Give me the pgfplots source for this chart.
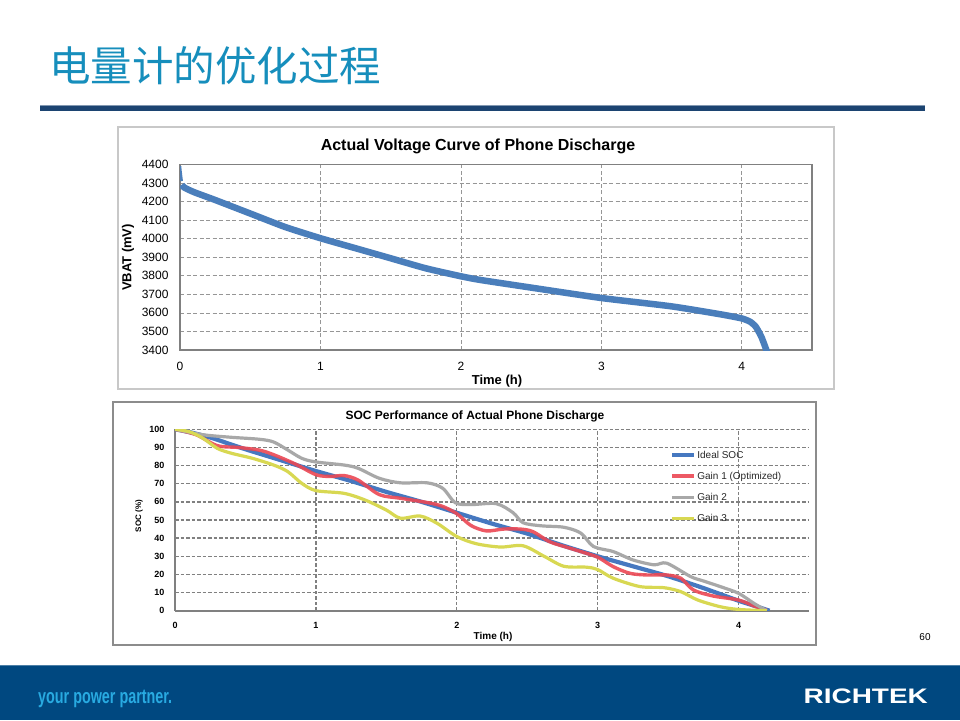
\documentclass[border=0pt]{standalone}
\usepackage{pgfplots}
\pgfplotsset{compat=1.18}
\usepackage{fontspec}
\setmainfont{Liberation Sans}
\newfontfamily\cjk{Noto Sans CJK SC}
\definecolor{ttl}{RGB}{22,142,188}
\definecolor{navy}{RGB}{28,68,113}
\definecolor{foot}{RGB}{0,72,128}
\definecolor{footlt}{RGB}{40,170,225}
\definecolor{vblue}{RGB}{74,126,187}
\definecolor{sblue}{RGB}{70,120,192}
\definecolor{sred}{RGB}{236,72,84}
\definecolor{sgray}{RGB}{168,168,168}
\definecolor{syel}{RGB}{216,216,82}
\definecolor{gridg}{RGB}{150,150,150}
\definecolor{axg}{RGB}{128,128,128}

\pgfplotstableread{
t v
0 4390
0.004 4360
0.012 4310
}\spike

\pgfplotstableread{
t v
0.012 4290
0.03 4275
0.1 4250
0.25 4208
0.5 4135
0.75 4062
1.0 4002
1.25 3948
1.5 3894
1.75 3840
2.0 3797
2.14 3777
2.5 3736
3.0 3680
3.5 3635
3.85 3592
4.0 3570
4.06 3552
4.1 3525
4.14 3470
4.18 3390
}\volt

\pgfplotstableread{
t s
0 100
0.1 98.5
0.25 95.5
0.5 89
0.75 83
1.0 77
1.25 71.5
1.5 65.5
1.75 60
2.0 54
2.25 48
2.5 42.5
2.75 36
3.0 30
3.25 24.5
3.5 19
3.75 12.5
4.0 5.5
4.1 3
4.22 0
}\ideal

\pgfplotstableread{
t s
0 100
0.15 97
0.3 91
0.45 90
0.6 88.5
0.7 86
0.85 81
1.0 75
1.1 74
1.2 74.5
1.3 72
1.45 64
1.6 62
1.8 59.5
1.9 57.5
2.0 53.5
2.1 47
2.21 44
2.33 45
2.45 45
2.54 43.6
2.66 38
2.78 35
2.88 32.6
3.0 29.5
3.11 24.3
3.23 20.6
3.35 19.7
3.49 19.7
3.59 17.9
3.68 11.4
3.82 8.1
4.0 5.9
4.11 2.6
4.2 0.3
}\gainA

\pgfplotstableread{
t s
0 100
0.2 97
0.4 95.6
0.6 94.5
0.7 93
0.8 88.6
0.9 84
1.0 82
1.2 80.3
1.3 78.5
1.45 73
1.6 70.5
1.79 70.5
1.9 67.5
1.99 59.5
2.1 58.5
2.28 59
2.4 54
2.47 48.5
2.6 46.8
2.76 46
2.88 42.8
2.97 35.4
3.11 32.6
3.25 28
3.4 25.3
3.49 26.2
3.66 18.8
3.75 16.4
3.87 13.3
4.0 9.6
4.11 4
4.2 0
}\gainB

\pgfplotstableread{
t s
0 100
0.1 98.7
0.2 95
0.3 89.5
0.4 86.8
0.55 84
0.7 80.3
0.8 76.7
0.9 70.2
1.0 66.2
1.2 64.7
1.35 61
1.5 55.5
1.6 51
1.74 52.2
1.86 48.2
2.0 40.9
2.14 36.9
2.31 35.1
2.47 35.8
2.62 30
2.76 24.5
2.92 24
3.0 22.7
3.11 17.9
3.3 13.3
3.47 12.7
3.59 10.5
3.71 5.9
3.87 2.2
4.0 0.7
4.2 0
}\gainC

\begin{document}
\begin{tikzpicture}[x=1pt,y=1pt]
% page
\fill[white] (0,0) rectangle (960,-720);
% slide title
\node[anchor=base west, inner sep=0pt, text=ttl] at (49,-81.5)
  {\cjk\fontsize{41.5}{41.5}\selectfont 电量计的优化过程};
\fill[navy] (40,-106) rectangle (925,-110.5);
\fill[navy!55!white] (40,-105) rectangle (925,-106);
% footer
\fill[foot] (0,-665) rectangle (960,-720);
\fill[foot!70!white] (0,-665) rectangle (960,-666);
\node[anchor=base west, inner sep=0pt, text=footlt] at (38,-703)
  {\scalebox{0.7}[1]{\bfseries\fontsize{20.5}{20.5}\selectfont your power partner.}};
\node[anchor=base east, inner sep=0pt, text=white] at (928,-703)
  {\scalebox{1.33}[1]{\bfseries\fontsize{21}{21}\selectfont RICHTEK}};
\node[inner sep=0pt] at (925,-637) {\fontsize{10}{10}\selectfont 60};

% ---------- top chart ----------
\draw[fill=white, draw={rgb,255:red,200;green,200;blue,200}, line width=1.5pt]
  (118,-127) rectangle (834,-389);
\begin{axis}[
  at={(180pt,-350pt)}, anchor=south west, scale only axis,
  width=632pt, height=185.7pt,
  xmin=0, xmax=4.5, ymin=3400, ymax=4400,
  xtick={0,1,2,3,4}, ytick={3400,3500,...,4400},
  grid=major,
  major grid style={draw=gridg, line width=0.7pt, dash pattern=on 4pt off 2.5pt},
  axis line style={draw=axg, line width=1.2pt},
  major tick length=0pt,
  /pgf/number format/assume math mode=true,
  /pgf/number format/1000 sep={},
  tick label style={font=\fontsize{12}{12}\selectfont},
  yticklabel style={xshift=-8pt},
  xticklabel style={yshift=-9pt},
]
\addplot[vblue, line width=2.5pt] table[x=t, y=v] {\spike};
\addplot[vblue, line width=6.5pt, line join=round, smooth, tension=0.35] table[x=t, y=v] {\volt};
\end{axis}
\node[font=\bfseries\fontsize{16}{16}\selectfont] at (478,-146.5) {Actual Voltage Curve of Phone Discharge};
\node[font=\bfseries\fontsize{13}{13}\selectfont, rotate=90] at (128,-257.5) {VBAT (mV)};
\node[font=\bfseries\fontsize{13}{13}\selectfont] at (497,-381.5) {Time (h)};

% ---------- bottom chart ----------
\draw[fill=white, draw={rgb,255:red,140;green,140;blue,140}, line width=2pt]
  (113,-402) rectangle (816,-645);
\begin{axis}[
  at={(175pt,-610.7pt)}, anchor=south west, scale only axis,
  width=634pt, height=181.4pt,
  xmin=0, xmax=4.5, ymin=0, ymax=100,
  xtick={0,1,2,3,4}, ytick={0,10,...,100},
  axis x line=bottom, axis y line=left,
  axis line style={draw=axg, line width=1.8pt, -},
  grid=major,
  major grid style={draw=axg, line width=1.3pt, dash pattern=on 3.5pt off 2pt},
  major tick length=0pt,
  /pgf/number format/assume math mode=true,
  tick label style={font=\bfseries\fontsize{9}{9}\selectfont},
  yticklabel style={xshift=-7pt},
  xticklabel style={yshift=-8pt},
  legend image code/.code={\draw[#1] (0pt,1pt) -- (22pt,1pt);},
  legend style={at={(rel axis cs:0.781,0.877)}, anchor=north west,
    draw=none, fill=none, inner sep=0pt, outer sep=0pt, row sep=12pt,
    nodes={inner ysep=0pt, inner xsep=1pt, text height=7pt, text depth=2pt, anchor=west},
    font=\fontsize{10}{10}\selectfont, text={rgb,255:red,40;green,40;blue,40}},
  legend cell align=left,
]
\addplot[sblue, line width=4.2pt, smooth, tension=0.4] table[x=t, y=s] {\ideal};
\addlegendentry{Ideal SOC}
\addplot[sred, line width=3.4pt, smooth, tension=0.5, opacity=0.9] table[x=t, y=s] {\gainA};
\addlegendentry{Gain 1 (Optimized)}
\addplot[sgray, line width=3.2pt, smooth, tension=0.5] table[x=t, y=s] {\gainB};
\addlegendentry{Gain 2}
\addplot[syel, line width=3.2pt, smooth, tension=0.5] table[x=t, y=s] {\gainC};
\addlegendentry{Gain 3}
\end{axis}
\node[font=\bfseries\fontsize{12}{12}\selectfont] at (475,-416) {SOC Performance of Actual Phone Discharge};
\node[font=\bfseries\fontsize{8}{8}\selectfont, rotate=90] at (139,-516) {SOC (\%)};
\node[font=\bfseries\fontsize{10}{10}\selectfont] at (493,-637) {Time (h)};
\end{tikzpicture}
\end{document}
